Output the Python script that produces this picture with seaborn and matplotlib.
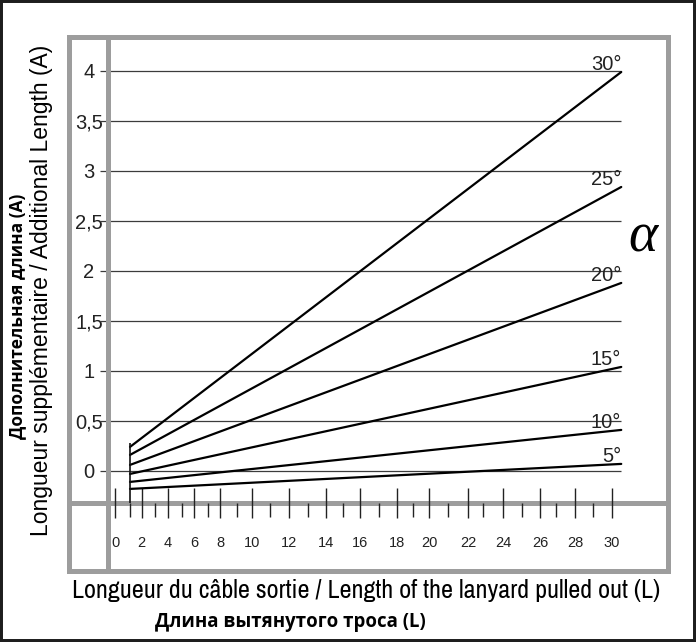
import os
import numpy as np
import pandas as pd
import matplotlib
matplotlib.use("Agg")
import matplotlib.pyplot as plt
import seaborn as sns
from matplotlib.patches import Rectangle
from matplotlib import font_manager as fm

# ---------------- data ----------------
angles = [5, 10, 15, 20, 25, 30]
angle_labels = ["5°", "10°", "15°", "20°", "25°", "30°"]
L_start = 1.0
L_end = 30.5
A_start = [-0.18, -0.11, -0.03, 0.06, 0.16, 0.24]
A_end = [0.07, 0.41, 1.04, 1.88, 2.84, 3.99]

y_ticks = [0, 0.5, 1, 1.5, 2, 2.5, 3, 3.5, 4]
y_tick_labels = ["0", "0,5", "1", "1,5", "2", "2,5", "3", "3,5", "4"]
x_major = list(range(0, 31, 2))
x_minor = list(range(1, 30, 2))
x_tick_labels = [str(v) for v in x_major]

# hand-drawn (non-uniform) horizontal scale of the original drawing
scale_vals = [-5] + list(range(0, 31)) + [35]
scale_pos = [40, 115, 130, 141.7, 155, 168, 181.7, 194, 208, 220, 236.7, 252,
             270, 289, 307.7, 326, 343, 360, 379, 397, 413, 429, 448, 468, 483,
             503, 522, 540, 556, 575, 593, 612, 704.5]

# ---------------- build frame ----------------
df = pd.DataFrame({
    "L": [L_start] * len(angles) + [L_end] * len(angles),
    "A": A_start + A_end,
    "angle": angles + angles,
})

sns.set_theme(style="white")
plt.rcParams["font.family"] = ["Liberation Sans", "DejaVu Sans"]

# look for a condensed sans face for the horizontal title
cond_fp = None
cond_kind = None
for f in fm.fontManager.ttflist:
    base = os.path.basename(f.fname).lower()
    if "liberationsansnarrow-regular" in base or ("narrow" in f.name.lower() and "bold" not in base and "italic" not in base):
        cond_fp = fm.FontProperties(fname=f.fname)
        cond_kind = "narrow"
        break
if cond_fp is None:
    for f in fm.fontManager.ttflist:
        base = os.path.basename(f.fname).lower()
        if "condensed" in base and "sans" in base and "oblique" not in base and "italic" not in base and "bold" not in base:
            cond_fp = fm.FontProperties(fname=f.fname)
            cond_kind = "condensed"
            break

W, H = 696, 642
fig = plt.figure(figsize=(W / 100, H / 100), dpi=100)
fig.patch.set_facecolor("white")
ax = fig.add_axes([69 / W, 1 - 571 / H, (668 - 69) / W, (571 - 37) / H])
ax.set_facecolor("white")

sns.lineplot(data=df, x="L", y="A", units="angle", estimator=None,
             color="black", linewidth=1.6, ax=ax, legend=False, zorder=4)


def fwd(v):
    return np.interp(v, scale_vals, scale_pos)


def inv(p):
    return np.interp(p, scale_pos, scale_vals)


ax.set_xscale("function", functions=(fwd, inv))
ax.set_xlim(inv(69), inv(668))
ax.set_ylim(-1.001, 4.340)

gray = "#9d9d9d"
ink = "#222222"

# horizontal reference lines
ax.hlines(y_ticks, inv(100), L_end, color="#3c3c3c", linewidth=0.9, zorder=1)
# vertical start line at L = 1
y_axis_pos = -0.321
ax.vlines(L_start, y_axis_pos, max(A_start) + 0.04, color="#111111",
          linewidth=1.2, zorder=4)

# spines / frame
for s in ["top", "right"]:
    ax.spines[s].set_visible(False)
ax.spines["left"].set_position(("data", inv(107.5)))
ax.spines["bottom"].set_position(("data", y_axis_pos))
for s in ["left", "bottom"]:
    ax.spines[s].set_color(gray)
    ax.spines[s].set_linewidth(3.6)
    ax.spines[s].set_zorder(2)
ax.add_patch(Rectangle((0, 0), 1, 1, transform=ax.transAxes, fill=False,
                       edgecolor=gray, linewidth=3.6, clip_on=False, zorder=2))

# ticks
ax.set_xticks(x_major)
ax.set_xticklabels(x_tick_labels)
ax.set_xticks(x_minor, minor=True)
ax.tick_params(axis="x", which="major", bottom=True, direction="inout",
               length=22.3, width=1.0, color=ink, pad=12.5, labelsize=10.5,
               labelcolor=ink)
ax.tick_params(axis="x", which="minor", bottom=True, direction="out",
               length=10, width=1.0, color=ink)
ax.set_yticks(y_ticks)
ax.set_yticklabels(y_tick_labels)
ax.tick_params(axis="y", which="both", left=False, length=0, pad=13.3,
               labelsize=14.5, labelcolor=ink)
for lab in ax.get_yticklabels():
    lab.set_horizontalalignment("center")
ax.set_xlabel("")
ax.set_ylabel("")
ax.grid(False)
ax.xaxis.set_zorder(3)

# angle labels
for lab, a in zip(angle_labels, A_end):
    ax.annotate(lab, (L_end, a), xytext=(0, 1.5), textcoords="offset points",
                ha="right", va="baseline", fontsize=14.5, color=ink, zorder=5)

ax.text(0.958, 0.6236, "α", transform=ax.transAxes, fontsize=40,
        family=["Liberation Serif", "DejaVu Serif"], style="italic",
        ha="center", va="center", color="black")

# axis titles
fig.text(42 / W, 1 - 290 / H, "Longueur supplémentaire / Additional Length (A)",
         rotation=90, ha="center", va="center", fontsize=16.5, color="black")
fig.text(17.5 / W, 1 - 316.5 / H, "Дополнительная длина (A)",
         rotation=90, ha="center", va="center", fontsize=12.5,
         family=["Open Sans", "DejaVu Sans"], weight="bold", color="black")
x_title = "Longueur du câble sortie / Length of the lanyard pulled out (L)"
if cond_kind == "narrow":
    fig.text(366 / W, 1 - 591 / H, x_title, ha="center", va="center",
             fontproperties=cond_fp, fontsize=18.8, color="black")
elif cond_kind == "condensed":
    fig.text(366 / W, 1 - 591 / H, x_title, ha="center", va="center",
             fontproperties=cond_fp, fontsize=17.0, color="black")
else:
    fig.text(366 / W, 1 - 591 / H, x_title, ha="center", va="center",
             fontsize=15.4, color="black")
fig.text(290 / W, 1 - 622 / H, "Длина вытянутого троса (L)",
         ha="center", va="center", fontsize=13.4,
         family=["Open Sans", "DejaVu Sans"], weight="bold", color="black")

# outer dark border of the picture
fig.patches.append(Rectangle((0, 0), 1, 1, transform=fig.transFigure,
                             fill=False, edgecolor="#1e1e1e", linewidth=4.3))

fig.savefig("out.png", dpi=100)
